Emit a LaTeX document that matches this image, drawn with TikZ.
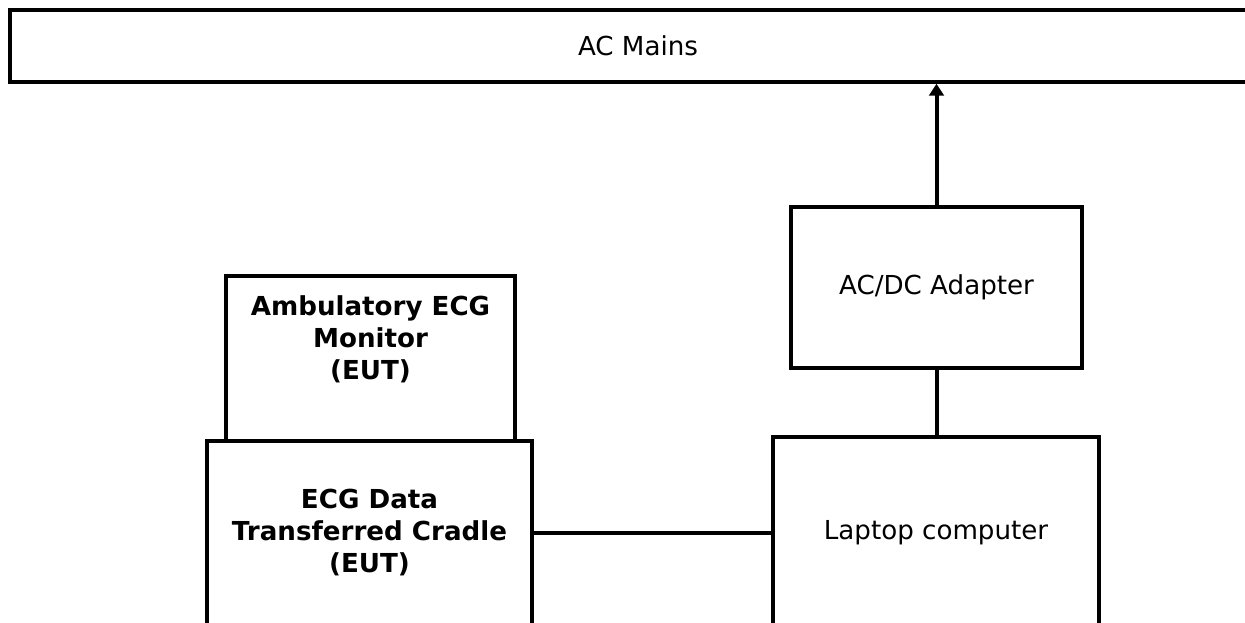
\documentclass[tikz,border=0pt]{standalone}
\usepackage{fontspec}
\setmainfont{DejaVu Sans}
\usetikzlibrary{arrows.meta}

\begin{document}
\begin{tikzpicture}[
		x=0.75pt, y=-0.75pt,
		unitbox/.style={draw, line width=3pt, fill=white, inner sep=0pt, align=center},
		boldtext/.style={align=center, font=\bfseries},
		wire/.style={line width=3pt},
	]
	\fontsize{19.6}{24}\selectfont
	\useasboundingbox (0,0) rectangle (1245,622);
	\clip (0,0) rectangle (1245,622);
	\node[unitbox, minimum width=942pt, minimum height=53.6pt] (mains) at (638,46) {AC Mains};
	\node[unitbox, minimum width=218.2pt, minimum height=120.8pt] (adapter) at (936.5,287.5) {AC/DC Adapter};
	\node[unitbox, minimum width=244.5pt, minimum height=144pt] (laptop) at (936,533) {Laptop computer};
	\node[unitbox, minimum width=216.8pt, minimum height=123.8pt] (monitor) at (370.5,358.5) {};
	\node[boldtext] (monitortext) at (370.5,339) {Ambulatory ECG\\Monitor\\(EUT)};
	\node[unitbox, boldtext, minimum width=243.8pt, minimum height=138pt] (cradle) at (369.5,533) {ECG Data\\Transferred Cradle\\(EUT)};
	\draw[wire, -{Triangle[width=11pt, length=9pt]}] (adapter.north) -- (adapter.north |- mains.south);
	\draw[wire] (adapter.south) -- (adapter.south |- laptop.north);
	\draw[wire] (cradle.east) -- (laptop.west);
\end{tikzpicture}
\end{document}
